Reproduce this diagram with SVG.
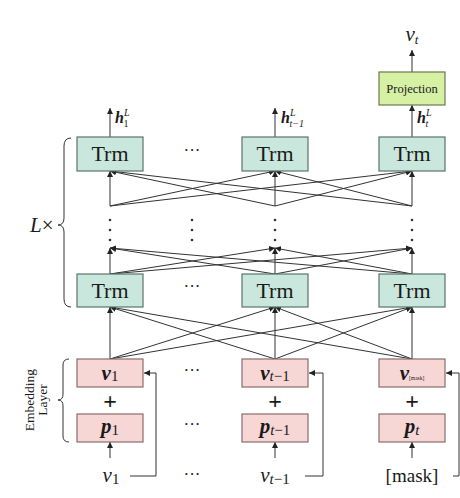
<svg xmlns="http://www.w3.org/2000/svg" width="460" height="498" viewBox="0 0 460 498">
<style>
text{font-family:"Liberation Serif","DejaVu Serif",serif;fill:#1a1a1a}
.trm rect{fill:#c9e7dc;stroke:#5b7468;stroke-width:1.2}
.emb rect{fill:#f7d6d6;stroke:#8c6b6b;stroke-width:1.2}
.proj rect{fill:#d6f0a4;stroke:#6d7a52;stroke-width:1.2}
.lbl{font-size:22px;text-anchor:middle}
.c line,.c path{stroke:#333;stroke-width:1;fill:none}
.dot{fill:#333}
.bv{font-weight:bold;font-style:italic}
</style>
<defs>
<marker id="ah" markerUnits="userSpaceOnUse" markerWidth="7" markerHeight="6" refX="6" refY="3" orient="auto">
<path d="M0,0 L6,3 L0,6 Z" fill="#222"/>
</marker>
</defs>

<!-- connectors -->
<g class="c" id="connectors">
<line x1="110" y1="137" x2="110" y2="108" marker-end="url(#ah)"/>
<line x1="275" y1="137" x2="275" y2="108" marker-end="url(#ah)"/>
<line x1="412" y1="137" x2="412" y2="105" marker-end="url(#ah)"/>
<line x1="412" y1="72" x2="412" y2="50" marker-end="url(#ah)"/>
<line x1="110" y1="206" x2="110" y2="171" marker-end="url(#ah)"/>
<line x1="110" y1="206" x2="275" y2="171" marker-end="url(#ah)"/>
<line x1="110" y1="206" x2="412" y2="171" marker-end="url(#ah)"/>
<line x1="275" y1="206" x2="110" y2="171" marker-end="url(#ah)"/>
<line x1="275" y1="206" x2="275" y2="171" marker-end="url(#ah)"/>
<line x1="275" y1="206" x2="412" y2="171" marker-end="url(#ah)"/>
<line x1="412" y1="206" x2="110" y2="171" marker-end="url(#ah)"/>
<line x1="412" y1="206" x2="275" y2="171" marker-end="url(#ah)"/>
<line x1="412" y1="206" x2="412" y2="171" marker-end="url(#ah)"/>
<line x1="110" y1="274" x2="110" y2="248" marker-end="url(#ah)"/>
<line x1="110" y1="274" x2="275" y2="248" marker-end="url(#ah)"/>
<line x1="110" y1="274" x2="412" y2="248" marker-end="url(#ah)"/>
<line x1="275" y1="274" x2="110" y2="248" marker-end="url(#ah)"/>
<line x1="275" y1="274" x2="275" y2="248" marker-end="url(#ah)"/>
<line x1="275" y1="274" x2="412" y2="248" marker-end="url(#ah)"/>
<line x1="412" y1="274" x2="110" y2="248" marker-end="url(#ah)"/>
<line x1="412" y1="274" x2="275" y2="248" marker-end="url(#ah)"/>
<line x1="412" y1="274" x2="412" y2="248" marker-end="url(#ah)"/>
<line x1="110" y1="359" x2="110" y2="307" marker-end="url(#ah)"/>
<line x1="110" y1="359" x2="275" y2="307" marker-end="url(#ah)"/>
<line x1="110" y1="359" x2="412" y2="307" marker-end="url(#ah)"/>
<line x1="275" y1="359" x2="110" y2="307" marker-end="url(#ah)"/>
<line x1="275" y1="359" x2="275" y2="307" marker-end="url(#ah)"/>
<line x1="275" y1="359" x2="412" y2="307" marker-end="url(#ah)"/>
<line x1="412" y1="359" x2="110" y2="307" marker-end="url(#ah)"/>
<line x1="412" y1="359" x2="275" y2="307" marker-end="url(#ah)"/>
<line x1="412" y1="359" x2="412" y2="307" marker-end="url(#ah)"/>
<line x1="110" y1="458" x2="110" y2="442" marker-end="url(#ah)"/>
<line x1="275" y1="458" x2="275" y2="442" marker-end="url(#ah)"/>
<line x1="412" y1="458" x2="412" y2="442" marker-end="url(#ah)"/>
<path d="M130,476 H156 V373 H144" marker-end="url(#ah)"/>
<path d="M305,476 H323 V373 H309" marker-end="url(#ah)"/>
<path d="M453,476 H459 V373 H446" marker-end="url(#ah)"/>
<path d="M71,138 Q64,138 64,146 L64,218 Q64,225 58,225 Q64,225 64,232 L64,299 Q64,307 71,307"/>
<path d="M69,359 Q63,359 63,365 L63,394 Q63,400 58,400 Q63,400 63,406 L63,436 Q63,442 69,442"/>
</g>

<g id="trm_top_1" class="trm"><rect x="77" y="137" width="66" height="34"/><text class="lbl" x="110" y="161">Trm</text></g>
<g id="trm_top_2" class="trm"><rect x="242" y="137" width="66" height="34"/><text class="lbl" x="275" y="161">Trm</text></g>
<g id="trm_top_3" class="trm"><rect x="379" y="137" width="66" height="34"/><text class="lbl" x="412" y="161">Trm</text></g>

<g id="trm_bot_1" class="trm"><rect x="77" y="274" width="66" height="33"/><text class="lbl" x="110" y="298">Trm</text></g>
<g id="trm_bot_2" class="trm"><rect x="242" y="274" width="66" height="33"/><text class="lbl" x="275" y="298">Trm</text></g>
<g id="trm_bot_3" class="trm"><rect x="379" y="274" width="66" height="33"/><text class="lbl" x="412" y="298">Trm</text></g>

<g id="projection" class="proj"><rect x="379" y="72" width="66" height="33"/><text x="412" y="93" font-size="12.5" text-anchor="middle">Projection</text></g>

<g id="out_vt"><text x="412" y="41" text-anchor="middle" font-size="21"><tspan font-style="italic">v</tspan><tspan font-style="italic" font-size="13" dy="3">t</tspan></text></g>

<g id="h1"><text x="115" y="123" font-size="16"><tspan class="bv">h</tspan><tspan font-style="italic" font-size="10" dy="-7">L</tspan><tspan font-size="10" dx="-6" dy="11">1</tspan></text></g>
<g id="ht1"><text x="281" y="123" font-size="16"><tspan class="bv">h</tspan><tspan font-style="italic" font-size="10" dy="-7">L</tspan><tspan font-size="10" font-style="italic" dx="-6" dy="11">t−1</tspan></text></g>
<g id="ht"><text x="417" y="123" font-size="16"><tspan class="bv">h</tspan><tspan font-style="italic" font-size="10" dy="-7">L</tspan><tspan font-size="10" font-style="italic" dx="-6" dy="11">t</tspan></text></g>

<g id="hdots" font-size="17" text-anchor="middle">
<text x="192" y="156">···</text>
<text x="192" y="292">···</text>
<text x="192" y="376">···</text>
<text x="192" y="430">···</text>
<text x="192" y="480">···</text>
</g>

<g id="vdots">
<circle class="dot" cx="110" cy="220" r="1.3"/><circle class="dot" cx="110" cy="230" r="1.3"/><circle class="dot" cx="110" cy="240" r="1.3"/>
<circle class="dot" cx="192" cy="220" r="1.3"/><circle class="dot" cx="192" cy="230" r="1.3"/><circle class="dot" cx="192" cy="240" r="1.3"/>
<circle class="dot" cx="275" cy="220" r="1.3"/><circle class="dot" cx="275" cy="230" r="1.3"/><circle class="dot" cx="275" cy="240" r="1.3"/>
<circle class="dot" cx="412" cy="220" r="1.3"/><circle class="dot" cx="412" cy="230" r="1.3"/><circle class="dot" cx="412" cy="240" r="1.3"/>
</g>

<g id="lx"><text x="30" y="232" font-size="21"><tspan font-style="italic">L</tspan>×</text></g>

<g id="emb_label" font-size="13.5" text-anchor="middle">
<text transform="translate(34,400) rotate(-90)">Embedding</text>
<text transform="translate(47,400) rotate(-90)">Layer</text>
</g>

<g id="v1" class="emb"><rect x="77" y="359" width="66" height="28"/><text x="110" y="380" font-size="21" text-anchor="middle"><tspan class="bv">v</tspan><tspan font-size="15" dy="1">1</tspan></text></g>
<g id="vt1" class="emb"><rect x="242" y="359" width="66" height="28"/><text x="275" y="380" font-size="21" text-anchor="middle"><tspan class="bv">v</tspan><tspan font-size="15" dy="1" font-style="italic">t</tspan><tspan font-size="15">−1</tspan></text></g>
<g id="vmask" class="emb"><rect x="379" y="359" width="66" height="28"/><text x="412" y="380" font-size="21" text-anchor="middle"><tspan class="bv">v</tspan><tspan font-size="5.5" dy="0">[mask]</tspan></text></g>

<g id="plus" font-size="24" font-weight="bold" text-anchor="middle">
<text x="110" y="409">+</text>
<text x="275" y="409">+</text>
<text x="412" y="409">+</text>
</g>

<g id="p1" class="emb"><rect x="77" y="414" width="66" height="28"/><text x="110" y="433" font-size="21" text-anchor="middle"><tspan class="bv">p</tspan><tspan font-size="15" dy="2">1</tspan></text></g>
<g id="pt1" class="emb"><rect x="242" y="414" width="66" height="28"/><text x="275" y="433" font-size="21" text-anchor="middle"><tspan class="bv">p</tspan><tspan font-size="15" dy="2" font-style="italic">t</tspan><tspan font-size="15">−1</tspan></text></g>
<g id="pt" class="emb"><rect x="379" y="414" width="66" height="28"/><text x="412" y="433" font-size="21" text-anchor="middle"><tspan class="bv">p</tspan><tspan font-size="15" dy="2" font-style="italic">t</tspan></text></g>

<g id="in_v1"><text x="111" y="482" font-size="21" text-anchor="middle"><tspan font-style="italic">v</tspan><tspan font-size="15" dy="2">1</tspan></text></g>
<g id="in_vt1"><text x="275" y="482" font-size="21" text-anchor="middle"><tspan font-style="italic">v</tspan><tspan font-size="15" dy="2" font-style="italic">t</tspan><tspan font-size="15">−1</tspan></text></g>
<g id="in_mask"><text x="412" y="482" font-size="19" text-anchor="middle">[mask]</text></g>
</svg>
